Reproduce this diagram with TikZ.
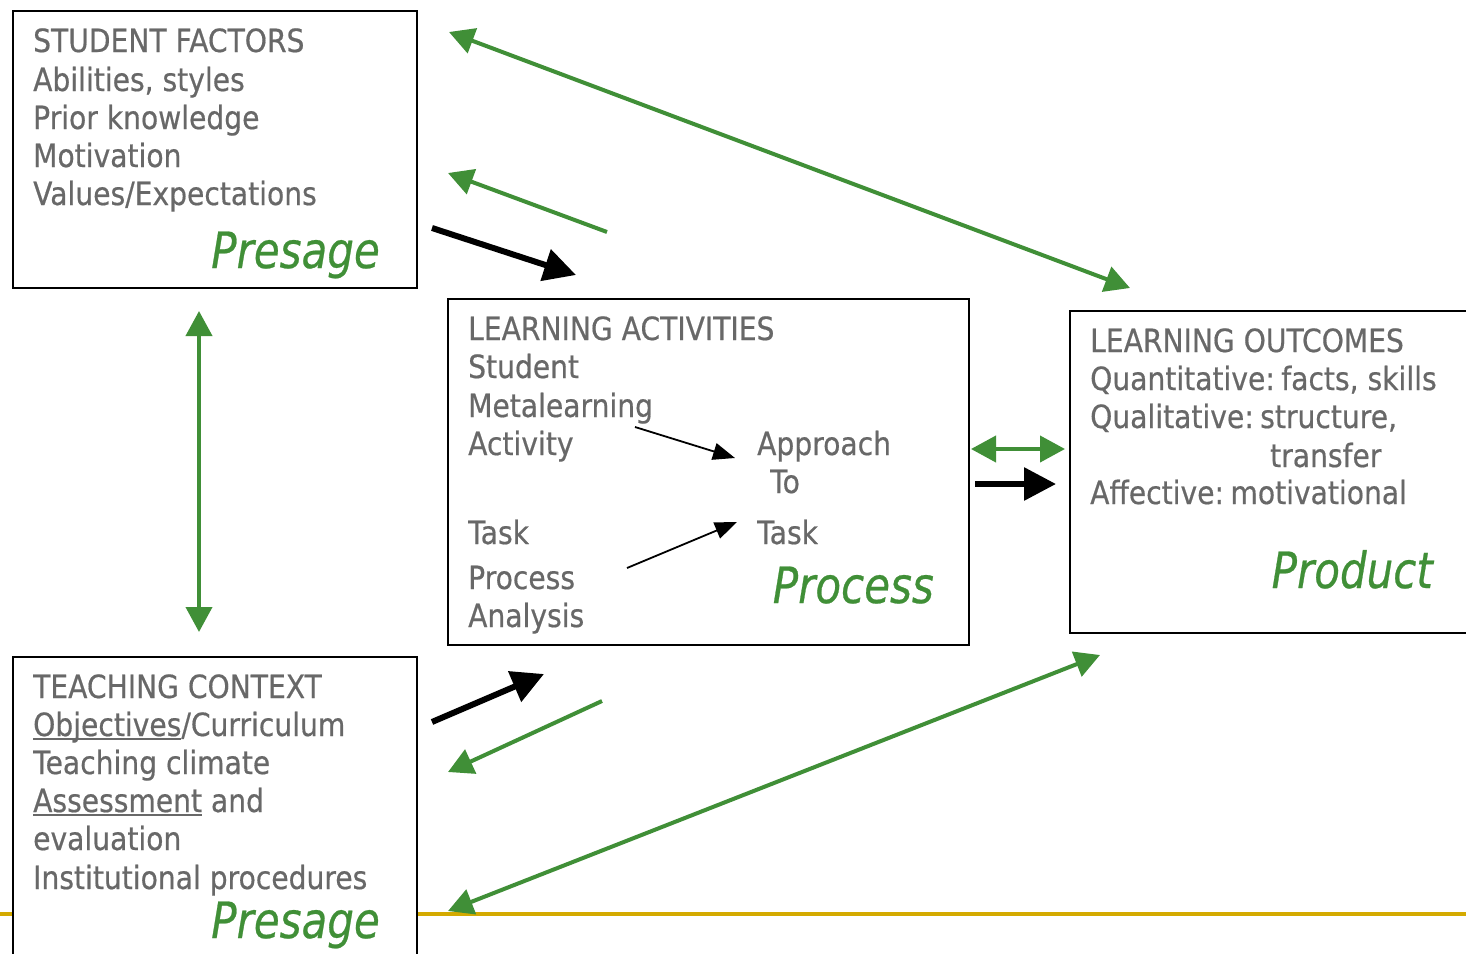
\documentclass[tikz,border=0pt]{standalone}
\usepackage{fontspec}
\setmainfont{DejaVu Sans}[FakeStretch=0.88, FakeBold=0.5]
\newfontfamily\labfont[FakeStretch=0.84, FakeBold=0.5]{DejaVu Sans Oblique}
\usetikzlibrary{arrows.meta}
\definecolor{txtgray}{RGB}{104,104,104}
\definecolor{grn}{RGB}{64,143,55}
\definecolor{gold}{RGB}{212,170,0}
\newcommand\myul[1]{\setbox0\hbox{#1}\rlap{\rule[-3.5pt]{\wd0}{1.8pt}}\box0\relax}
\newcommand\cln{:\kern-2.5pt\ }
\tikzset{
  boxstyle/.style={draw=black, line width=1.8pt, fill=white, inner sep=0pt, anchor=north west},
  txt/.style={anchor=base west, inner sep=0pt, text=txtgray, font=\fontsize{32}{38}\selectfont},
  lab/.style={anchor=base east, inner sep=0pt, text=grn, font=\labfont\fontsize{50}{54}\selectfont},
  garrow/.style={draw=grn, line width=4pt, -{Triangle[length=25pt,width=26pt]}},
  gdouble/.style={draw=grn, line width=4pt, {Triangle[length=25pt,width=26pt]}-{Triangle[length=25pt,width=26pt]}},
  barrow/.style={draw=black, line width=6pt, -{Triangle[length=32pt,width=32pt]}},
  tarrow/.style={draw=black, line width=1.8pt, -{Triangle[length=22pt,width=17pt]}},
}
\begin{document}
\begin{tikzpicture}[x=1pt,y=-1pt]
\useasboundingbox (0,0) rectangle (1466,953);
\fill[white] (0,0) rectangle (1466,953);
% gold line
\draw[gold, line width=3.5pt] (0,914) -- (1466,914);
% boxes
\node[boxstyle, minimum width=404pt, minimum height=277pt] (sf) at (12,10) {};
\node[boxstyle, minimum width=521pt, minimum height=346pt] (la) at (447,298) {};
\node[boxstyle, minimum width=420pt, minimum height=322pt] (lo) at (1069,310) {};
\node[boxstyle, minimum width=404pt, minimum height=320pt] (tc) at (12,656) {};
% student factors text
\node[txt] (sf1) at (33,52) {STUDENT FACTORS};
\node[txt] (sf2) at (33,91) {Abilities, styles};
\node[txt] (sf3) at (33,129) {Prior knowledge};
\node[txt] (sf4) at (33,167) {Motivation};
\node[txt] (sf5) at (33,205) {Values/Expectations};
\node[lab] (sfl) at (380,268) {Presage};
% learning activities
\node[txt] (la1) at (468,340) {LEARNING ACTIVITIES};
\node[txt] (la2) at (468,378) {Student};
\node[txt] (la3) at (468,417) {Metalearning};
\node[txt] (la4) at (468,455) {Activity};
\node[txt] (la5) at (757,455) {Approach};
\node[txt] (la6) at (770,493) {To};
\node[txt] (la7) at (468,544) {Task};
\node[txt] (la8) at (757,544) {Task};
\node[txt] (la9) at (468,589) {Process};
\node[txt] (la10) at (468,627) {Analysis};
\node[lab] (lal) at (934,603) {Process};
% learning outcomes
\node[txt] (lo1) at (1090,352) {LEARNING OUTCOMES};
\node[txt] (lo2) at (1090,390) {Quantitative\cln facts, skills};
\node[txt] (lo3) at (1090,428) {Qualitative\cln structure,};
\node[txt] (lo4) at (1270,467) {transfer};
\node[txt] (lo5) at (1090,504) {Affective\cln motivational};
\node[lab] (lol) at (1433,588) {Product};
% teaching context
\node[txt] (tc1) at (33,698) {TEACHING CONTEXT};
\node[txt] (tc2) at (33,736) {\myul{Objectives}/Curriculum};
\node[txt] (tc3) at (33,774) {Teaching climate};
\node[txt] (tc4) at (33,812) {\myul{Assessment} and};
\node[txt] (tc5) at (33,850) {evaluation};
\node[txt] (tc6) at (33,889) {Institutional procedures};
\node[lab] (tcl) at (380,938) {Presage};
% arrow endpoints
\coordinate (p1a) at (449,32);  \coordinate (p1b) at (1130,288);
\coordinate (p2a) at (607,232); \coordinate (p2b) at (448,173);
\coordinate (p3a) at (432,228); \coordinate (p3b) at (576,275);
\coordinate (p4a) at (199,311); \coordinate (p4b) at (199,632);
\coordinate (p5a) at (432,722); \coordinate (p5b) at (544,674);
\coordinate (p6a) at (602,701); \coordinate (p6b) at (448,772);
\coordinate (p7a) at (1100,655); \coordinate (p7b) at (448,911);
\coordinate (p8a) at (971,449); \coordinate (p8b) at (1065,449);
\coordinate (p9a) at (975,484); \coordinate (p9b) at (1056,484);
\coordinate (p10a) at (635,427); \coordinate (p10b) at (735,458);
\coordinate (p11a) at (627,568); \coordinate (p11b) at (737,522);
\draw[gdouble] (p1a) -- (p1b);
\draw[garrow] (p2a) -- (p2b);
\draw[barrow] (p3a) -- (p3b);
\draw[gdouble] (p4a) -- (p4b);
\draw[barrow] (p5a) -- (p5b);
\draw[garrow] (p6a) -- (p6b);
\draw[gdouble] (p7a) -- (p7b);
\draw[gdouble] (p8a) -- (p8b);
\draw[barrow] (p9a) -- (p9b);
\draw[tarrow] (p10a) -- (p10b);
\draw[tarrow] (p11a) -- (p11b);
\end{tikzpicture}
\end{document}
